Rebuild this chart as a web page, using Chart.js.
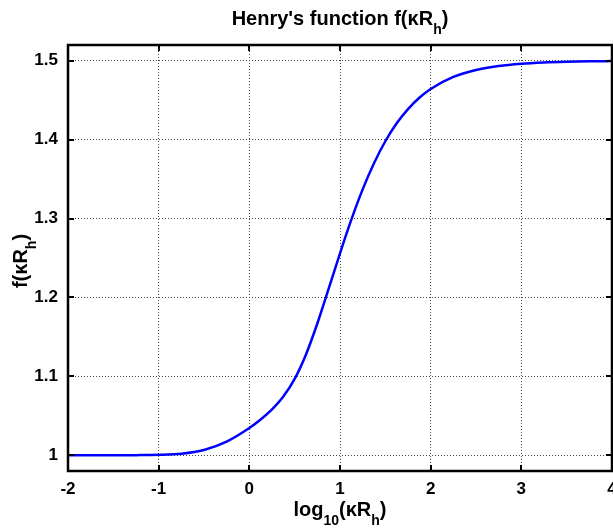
<!DOCTYPE html>
<html>
<head>
<meta charset="utf-8">
<title>Henry's function</title>
<script src="https://cdn.jsdelivr.net/npm/chart.js@4/dist/chart.umd.min.js"></script>
<style>
  html, body { margin: 0; padding: 0; background: #fff; }
  #wrap { width: 613px; height: 529px; }
</style>
</head>
<body>
<div id="wrap"><canvas id="chartHenry"></canvas></div>
<script>
// log10(kappa*Rh) and Henry's function f(kappa*Rh)
const logKR = [-2, -1.75, -1.5, -1.25, -1, -0.75, -0.5, -0.25, 0, 0.125, 0.25, 0.375, 0.5, 0.625, 0.75, 0.875,
  1, 1.125, 1.25, 1.375, 1.5, 1.625, 1.75, 1.875, 2, 2.25, 2.5, 2.75, 3, 3.25, 3.5, 3.75, 4];
const henryF = [1.0000, 1.0000, 1.0000, 1.0001, 1.0005, 1.0020, 1.0067, 1.0172, 1.0344, 1.0452, 1.0580, 1.0743,
  1.0968, 1.1278, 1.1670, 1.2111, 1.2560, 1.2986, 1.3370, 1.3702, 1.3980, 1.4207, 1.4388, 1.4532, 1.4643,
  1.4795, 1.4883, 1.4934, 1.4963, 1.4979, 1.4988, 1.4993, 1.4996];
const xTicks = [-2, -1, 0, 1, 2, 3, 4];
const yTicks = [1, 1.1, 1.2, 1.3, 1.4, 1.5];

const FONT = "'Liberation Sans', Arial, sans-serif";

// draws a label made of normal and subscript pieces, centred on cx, sitting on baseline by
function drawSubText(ctx, parts, cx, by, size) {
  const subSize = Math.round(size * 0.72);
  let total = 0;
  parts.forEach(([t, sub]) => {
    ctx.font = "bold " + (sub ? subSize : size) + "px " + FONT;
    total += ctx.measureText(t).width;
  });
  let x = cx - total / 2;
  ctx.textAlign = "left";
  ctx.textBaseline = "alphabetic";
  parts.forEach(([t, sub]) => {
    ctx.font = "bold " + (sub ? subSize : size) + "px " + FONT;
    ctx.fillText(t, x, sub ? by + size * 0.45 : by);
    x += ctx.measureText(t).width;
  });
}

const frameAndLabels = {
  id: "frameAndLabels",
  afterDraw(chart) {
    const { ctx, chartArea: a, scales } = chart;
    ctx.save();
    ctx.fillStyle = "#000";
    ctx.strokeStyle = "#000";

    // inward tick marks on all four sides
    ctx.lineWidth = 2;
    ctx.beginPath();
    xTicks.forEach(v => {
      const px = Math.round(scales.x.getPixelForValue(v));
      ctx.moveTo(px, a.bottom); ctx.lineTo(px, a.bottom - 6);
      ctx.moveTo(px, a.top); ctx.lineTo(px, a.top + 6);
    });
    yTicks.forEach(v => {
      const py = Math.round(scales.y.getPixelForValue(v));
      ctx.moveTo(a.left, py); ctx.lineTo(a.left + 6, py);
      ctx.moveTo(a.right, py); ctx.lineTo(a.right - 6, py);
    });
    ctx.stroke();

    // box around the plot
    ctx.lineWidth = 2.5;
    ctx.strokeRect(a.left, a.top, a.right - a.left, a.bottom - a.top);

    const cx = (a.left + a.right) / 2;
    drawSubText(ctx, [["Henry's function f(\u03baR", false], ["h", true], [")", false]], cx, 25, 20);
    drawSubText(ctx, [["log", false], ["10", true], ["(\u03baR", false], ["h", true], [")", false]], cx, 516, 20);

    ctx.translate(27, 261);
    ctx.rotate(-Math.PI / 2);
    drawSubText(ctx, [["f(\u03baR", false], ["h", true], [")", false]], 0, 0, 20);
    ctx.restore();
  }
};

document.addEventListener("DOMContentLoaded", () => {
  new Chart(document.querySelector("#chartHenry"), {
    type: "line",
    data: {
      datasets: [
        {
          data: logKR.map((x, i) => ({ x: x, y: henryF[i] })),
          borderColor: "#0000ff",
          borderWidth: 2.5,
          pointRadius: 0,
          fill: false,
          cubicInterpolationMode: "monotone",
        },
      ],
    },
    options: {
      responsive: true,
      maintainAspectRatio: false,
      animation: false,
      layout: { padding: { top: 45, right: 1, left: 0, bottom: 0 } },
      plugins: {
        legend: { display: false },
        tooltip: { enabled: false },
      },
      scales: {
        x: {
          type: "linear",
          min: -2,
          max: 4,
          afterBuildTicks: s => { s.ticks = xTicks.map(v => ({ value: v })); },
          afterFit: s => { s.height = 58; s.paddingLeft = 0; s.paddingRight = 0; },
          grid: { color: "#444", lineWidth: 1, drawTicks: false },
          border: { display: true, color: "#000", width: 2, dash: [1, 2] },
          ticks: {
            color: "#000",
            padding: 8,
            maxRotation: 0,
            font: { family: FONT, size: 17, weight: "bold" },
          },
        },
        y: {
          type: "linear",
          min: 0.98,
          max: 1.52,
          afterBuildTicks: s => { s.ticks = yTicks.map(v => ({ value: v })); },
          afterFit: s => { s.width = 68; s.paddingTop = 0; s.paddingBottom = 0; },
          grid: { color: "#444", lineWidth: 1, drawTicks: false },
          border: { display: true, color: "#000", width: 2, dash: [1, 2] },
          ticks: {
            color: "#000",
            padding: 10,
            callback: v => String(+v.toFixed(1)),
            font: { family: FONT, size: 17, weight: "bold" },
          },
        },
      },
    },
    plugins: [frameAndLabels],
  });
});
</script>
</body>
</html>
